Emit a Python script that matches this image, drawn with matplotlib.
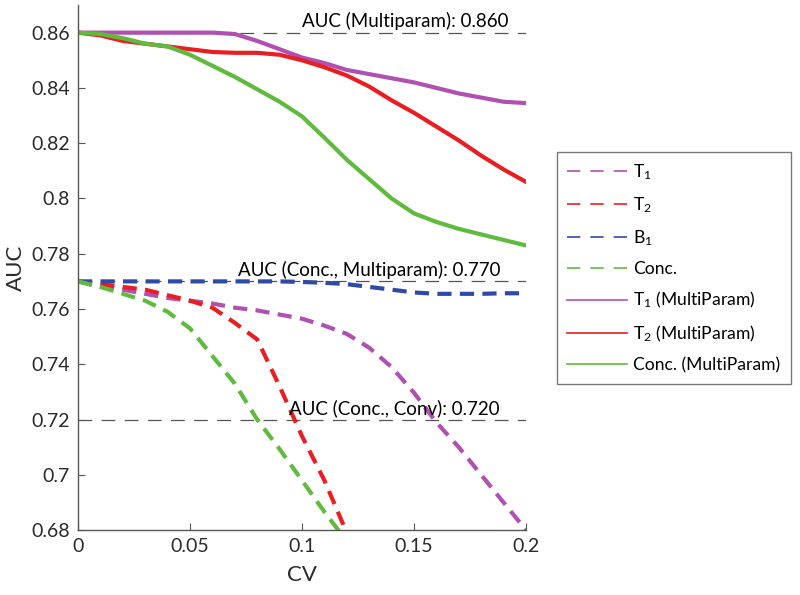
import matplotlib
matplotlib.use("Agg")
import matplotlib.pyplot as plt
from matplotlib.lines import Line2D
import numpy as np

plt.rcParams['font.family'] = ['Lato', 'DejaVu Sans']
plt.rcParams['mathtext.fontset'] = 'custom'
plt.rcParams['mathtext.rm'] = 'Lato'
plt.rcParams['mathtext.default'] = 'regular'

# CV steps
cv = [0.00, 0.01, 0.02, 0.03, 0.04, 0.05, 0.06, 0.07, 0.08, 0.09, 0.10,
      0.11, 0.12, 0.13, 0.14, 0.15, 0.16, 0.17, 0.18, 0.19, 0.20]

# conventional (dashed) curves
t1 = [0.770, 0.768, 0.767, 0.7655, 0.764, 0.763, 0.762, 0.7605, 0.7595, 0.758, 0.7565,
      0.754, 0.751, 0.746, 0.739, 0.7297, 0.719, 0.710, 0.700, 0.690, 0.680]
t2 = [0.770, 0.769, 0.768, 0.767, 0.765, 0.763, 0.7605, 0.755, 0.749, 0.732, 0.714,
      0.698, 0.679]
b1 = [0.770, 0.770, 0.770, 0.770, 0.770, 0.770, 0.770, 0.770, 0.770, 0.770, 0.7698,
      0.7695, 0.769, 0.768, 0.767, 0.766, 0.7655, 0.7655, 0.7655, 0.7657, 0.7657]
conc = [0.770, 0.768, 0.7655, 0.763, 0.759, 0.753, 0.743, 0.733, 0.720, 0.7093, 0.698,
        0.6866, 0.676]

# multiparametric (solid) curves
t1_mp = [0.860, 0.860, 0.860, 0.860, 0.860, 0.860, 0.860, 0.8595, 0.857, 0.854, 0.851,
         0.849, 0.8465, 0.845, 0.8435, 0.842, 0.840, 0.838, 0.8365, 0.835, 0.8345]
t2_mp = [0.860, 0.859, 0.857, 0.856, 0.855, 0.854, 0.853, 0.8527, 0.8527, 0.852, 0.850,
         0.8475, 0.8445, 0.8405, 0.8355, 0.831, 0.826, 0.821, 0.8155, 0.8105, 0.806]
conc_mp = [0.860, 0.8595, 0.858, 0.856, 0.855, 0.852, 0.848, 0.844, 0.8395, 0.835, 0.8297,
           0.822, 0.814, 0.807, 0.800, 0.7946, 0.7915, 0.789, 0.787, 0.785, 0.783]

ref_vals = [0.860, 0.770, 0.720]
ref_labels = ['AUC (Multiparam): 0.860', 'AUC (Conc., Multiparam): 0.770', 'AUC (Conc., Conv): 0.720']
ref_text_x = [0.146, 0.130, 0.141]

purple = '#b050b0'
red = '#e81e22'
blue = '#2f49a6'
green = '#5fba3e'
gray = '#555555'

fig = plt.figure(figsize=(8, 5.95), dpi=100)
ax = fig.add_axes([0.0975, 0.109, 0.56, 0.8826])

for v, lab, tx in zip(ref_vals, ref_labels, ref_text_x):
    ax.plot([0, 0.2], [v, v], color=gray, lw=0.9, dashes=(11, 7.5))
    ax.text(tx, v + 0.0008, lab, ha='center', va='bottom', fontsize=13.5, color='black')

dash = (3.4, 2.0)
lw = 3.0
ax.plot(cv[:len(t1)], t1, color=purple, lw=lw, dashes=dash)
ax.plot(cv[:len(t2)], t2, color=red, lw=lw, dashes=dash)
ax.plot(cv[:len(b1)], b1, color=blue, lw=lw, dashes=dash)
ax.plot(cv[:len(conc)], conc, color=green, lw=lw, dashes=dash)
ax.plot(cv, t1_mp, color=purple, lw=lw)
ax.plot(cv, t2_mp, color=red, lw=lw)
ax.plot(cv, conc_mp, color=green, lw=lw)

ax.set_xlim(0, 0.2)
ax.set_ylim(0.68, 0.87)
ax.set_xticks([0, 0.05, 0.1, 0.15, 0.2])
ax.set_xticklabels(['0', '0.05', '0.1', '0.15', '0.2'])
ax.set_yticks([0.68, 0.7, 0.72, 0.74, 0.76, 0.78, 0.8, 0.82, 0.84, 0.86])
ax.set_yticklabels(['0.68', '0.7', '0.72', '0.74', '0.76', '0.78', '0.8', '0.82', '0.84', '0.86'])
ax.tick_params(direction='in', length=5, width=0.8, color=gray, labelsize=14, labelcolor='#2a2a2a', pad=6)
for s in ['top', 'right']:
    ax.spines[s].set_visible(False)
for s in ['left', 'bottom']:
    ax.spines[s].set_color(gray)
    ax.spines[s].set_linewidth(1.0)
ax.set_xlabel('CV', fontsize=16, color='#2a2a2a', labelpad=7)
ax.set_ylabel('AUC', fontsize=16, color='#2a2a2a')

handles = [
    Line2D([], [], color=purple, lw=1.2, dashes=(8, 6)),
    Line2D([], [], color=red, lw=1.2, dashes=(8, 6)),
    Line2D([], [], color=blue, lw=1.2, dashes=(8, 6)),
    Line2D([], [], color=green, lw=1.2, dashes=(8, 6)),
    Line2D([], [], color=purple, lw=1.2),
    Line2D([], [], color=red, lw=1.2),
    Line2D([], [], color=green, lw=1.2),
]
labels = ['T$_1$', 'T$_2$', 'B$_1$', 'Conc.', 'T$_1$ (MultiParam)', 'T$_2$ (MultiParam)',
          'Conc. (MultiParam)']
leg = fig.legend(handles, labels, loc='center left', bbox_to_anchor=(0.696, 0.55),
                 fontsize=12.6, frameon=True, fancybox=False, edgecolor=gray,
                 handlelength=3.4, handletextpad=0.35, labelspacing=0.75, borderpad=0.6,
                 borderaxespad=0)
leg.get_frame().set_linewidth(1.0)

fig.savefig('out.png', dpi=100)
